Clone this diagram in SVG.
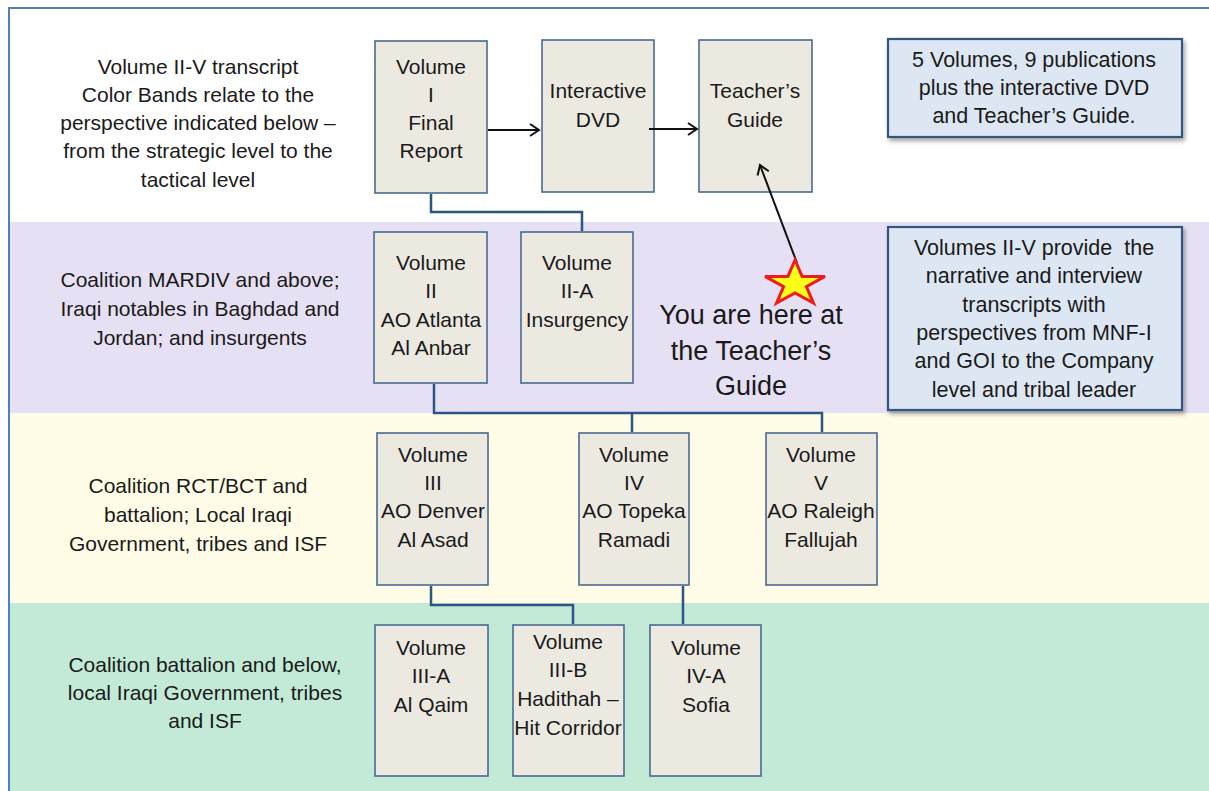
<svg xmlns="http://www.w3.org/2000/svg" width="1209" height="791" viewBox="0 0 1209 791">
<style>
text{font-family:"Liberation Sans",Arial,sans-serif;fill:#1a1a1a;text-anchor:middle}
.lbl{font-size:21px}
.inf{font-size:21.5px}
.bx{font-size:21px}
.node rect{fill:#ece9e1;stroke:#4a6a92;stroke-width:1.6}
.info rect{fill:#dde7f3;stroke:#34557f;stroke-width:2.2}
.conn{fill:none;stroke:#2d5583;stroke-width:2.5}
.arr{fill:none;stroke:#111;stroke-width:2}
</style>
<defs>
<marker id="ah" markerWidth="14" markerHeight="14" refX="11" refY="7" orient="auto" markerUnits="userSpaceOnUse">
<path d="M2,1 L11,7 L2,13" fill="none" stroke="#111" stroke-width="2"/>
</marker>
<filter id="sh" x="-10%" y="-10%" width="125%" height="130%">
<feDropShadow dx="2" dy="3" stdDeviation="2" flood-color="#000" flood-opacity="0.35"/>
</filter>
</defs>
<rect x="0" y="0" width="1209" height="791" fill="#ffffff"/>
<g id="bands">
<rect x="10" y="222" width="1199" height="191" fill="#e6e0f4"/>
<rect x="10" y="413" width="1199" height="190" fill="#fffde7"/>
<rect x="10" y="603" width="1199" height="188" fill="#c2ead6"/>
</g>
<path d="M9,791 L9,8 L1209,8" fill="none" stroke="#4f7fc0" stroke-width="2"/>
<g id="band-labels">
<text class="lbl" x="198" y="74">Volume II-V transcript</text>
<text class="lbl" x="198" y="102">Color Bands relate to the</text>
<text class="lbl" x="198" y="130">perspective indicated below –</text>
<text class="lbl" x="198" y="158">from the strategic level to the</text>
<text class="lbl" x="198" y="187">tactical level</text>
<text class="lbl" x="200" y="287">Coalition MARDIV and above;</text>
<text class="lbl" x="200" y="316">Iraqi notables in Baghdad and</text>
<text class="lbl" x="200" y="345">Jordan; and insurgents</text>
<text class="lbl" x="198" y="493">Coalition RCT/BCT and</text>
<text class="lbl" x="198" y="522">battalion; Local Iraqi</text>
<text class="lbl" x="198" y="551">Government, tribes and ISF</text>
<text class="lbl" x="205" y="672">Coalition battalion and below,</text>
<text class="lbl" x="205" y="700">local Iraqi Government, tribes</text>
<text class="lbl" x="205" y="728">and ISF</text>
</g>
<g id="vol1" class="node"><rect x="375" y="41" width="112" height="152"/>
<text class="bx" x="431" y="74">Volume</text><text class="bx" x="431" y="102">I</text><text class="bx" x="431" y="130">Final</text><text class="bx" x="431" y="158">Report</text></g>
<g id="dvd" class="node"><rect x="542" y="40" width="112" height="152"/>
<text class="bx" x="598" y="98">Interactive</text><text class="bx" x="598" y="127">DVD</text></g>
<g id="guide" class="node"><rect x="699" y="40" width="113" height="152"/>
<text class="bx" x="755" y="98">Teacher’s</text><text class="bx" x="755" y="127">Guide</text></g>
<g id="vol2" class="node"><rect x="374" y="232" width="113" height="151"/>
<text class="bx" x="431" y="270">Volume</text><text class="bx" x="431" y="298">II</text><text class="bx" x="431" y="327">AO Atlanta</text><text class="bx" x="431" y="355">Al Anbar</text></g>
<g id="vol2a" class="node"><rect x="521" y="232" width="112" height="151"/>
<text class="bx" x="577" y="270">Volume</text><text class="bx" x="577" y="298">II-A</text><text class="bx" x="577" y="327">Insurgency</text></g>
<g id="vol3" class="node"><rect x="377" y="433" width="111" height="152"/>
<text class="bx" x="433" y="462">Volume</text><text class="bx" x="433" y="490">III</text><text class="bx" x="433" y="518">AO Denver</text><text class="bx" x="433" y="547">Al Asad</text></g>
<g id="vol4" class="node"><rect x="579" y="433" width="110" height="152"/>
<text class="bx" x="634" y="462">Volume</text><text class="bx" x="634" y="490">IV</text><text class="bx" x="634" y="518">AO Topeka</text><text class="bx" x="634" y="547">Ramadi</text></g>
<g id="vol5" class="node"><rect x="766" y="433" width="111" height="152"/>
<text class="bx" x="821" y="462">Volume</text><text class="bx" x="821" y="490">V</text><text class="bx" x="821" y="518">AO Raleigh</text><text class="bx" x="821" y="547">Fallujah</text></g>
<g id="vol3a" class="node"><rect x="375" y="625" width="113" height="151"/>
<text class="bx" x="431" y="655">Volume</text><text class="bx" x="431" y="683">III-A</text><text class="bx" x="431" y="712">Al Qaim</text></g>
<g id="vol3b" class="node"><rect x="513" y="625" width="111" height="151"/>
<text class="bx" x="568" y="649">Volume</text><text class="bx" x="568" y="677">III-B</text><text class="bx" x="568" y="706">Hadithah –</text><text class="bx" x="568" y="735">Hit Corridor</text></g>
<g id="vol4a" class="node"><rect x="650" y="625" width="111" height="151"/>
<text class="bx" x="706" y="655">Volume</text><text class="bx" x="706" y="683">IV-A</text><text class="bx" x="706" y="712">Sofia</text></g>
<g id="info1" class="info"><rect x="888" y="39" width="294" height="98" filter="url(#sh)"/>
<text class="inf" x="1034" y="67">5 Volumes, 9 publications</text><text class="inf" x="1034" y="95">plus the interactive DVD</text><text class="inf" x="1034" y="123">and Teacher’s Guide.</text></g>
<g id="info2" class="info"><rect x="888" y="227" width="294" height="183" filter="url(#sh)"/>
<text class="inf" x="1034" y="255" xml:space="preserve" style="white-space:pre">Volumes II-V provide  the</text><text class="inf" x="1034" y="283">narrative and interview</text><text class="inf" x="1034" y="312">transcripts with</text><text class="inf" x="1034" y="340">perspectives from MNF-I</text><text class="inf" x="1034" y="368">and GOI to the Company</text><text class="inf" x="1034" y="397">level and tribal leader</text></g>
<g id="connectors">
<path class="conn" d="M431,194 V212 H582 V231"/>
<path class="conn" d="M434,384 V413 H822 V432 M632,413 V432"/>
<path class="conn" d="M431,586 V605 H573 V624"/>
<path class="conn" d="M683,586 V624"/>
<line class="arr" x1="488" y1="130" x2="539" y2="130" marker-end="url(#ah)"/>
<line class="arr" x1="649" y1="129" x2="697" y2="129" marker-end="url(#ah)"/>
<line class="arr" x1="797" y1="263" x2="760" y2="165" marker-end="url(#ah)"/>
</g>
<g id="star">
<polygon points="795,260 802.1,276.4 825,276.4 806.4,286.6 813.5,303.1 795,292.9 776.5,303.1 783.6,286.6 765,276.4 787.9,276.4" fill="#ffff1a" stroke="#ee1c1c" stroke-width="3" stroke-linejoin="miter"/>
</g>
<g id="here">
<text x="751" y="324" style="font-size:27px">You are here at</text>
<text x="751" y="360" style="font-size:27px">the Teacher’s</text>
<text x="751" y="395" style="font-size:27px">Guide</text>
</g>
</svg>
